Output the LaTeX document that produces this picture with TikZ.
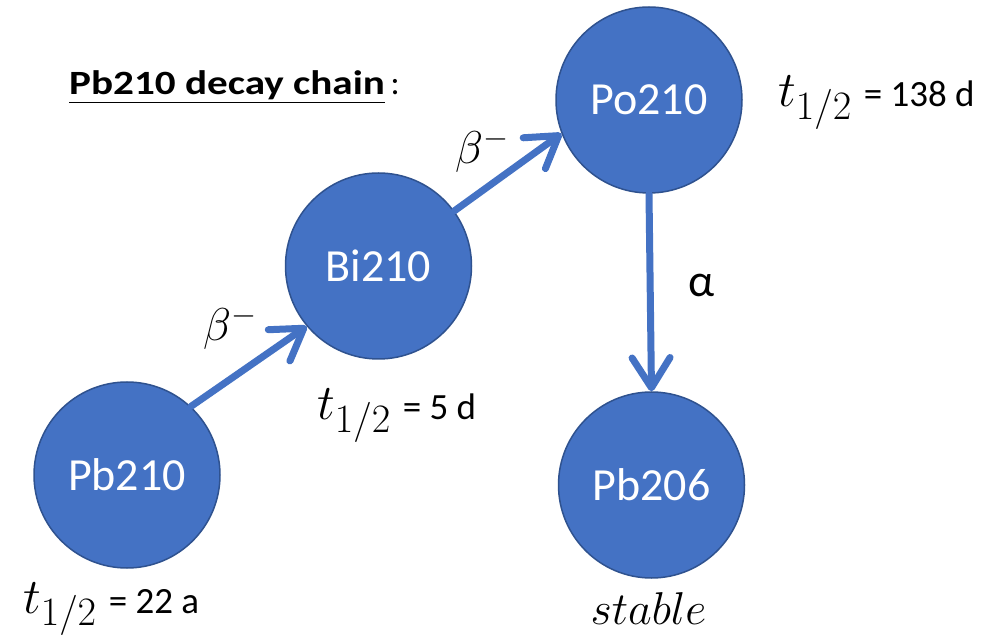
\RequirePackage{fix-cm}
\documentclass[tikz,border=0pt]{standalone}
\usepackage{fontspec}
\setmainfont{Carlito}
\usetikzlibrary{arrows.meta}
\definecolor{nucfill}{HTML}{4472C4}
\definecolor{nucedge}{HTML}{2F528F}
\newcommand{\thalf}{{\fontsize{50}{54}\selectfont$t_{\scalebox{1.15}{$\scriptstyle 1/2$}}$}\hspace{12pt}}
\begin{document}
\begin{tikzpicture}[x=1pt,y=-1pt,
  nuclide/.style={circle, fill=nucfill, draw=nucedge, line width=1.5pt,
    minimum size=186pt, inner sep=0pt, text=white,
    font=\fontsize{46}{50}\selectfont},
  decay/.style={draw=nucfill, line width=7pt, line cap=round,
    -{Straight Barb[length=30pt, width=38pt, round]}},
  plain/.style={inner sep=0pt, anchor=base west},
  halflife/.style={plain, font=\fontsize{37}{42}\selectfont},
  mathbig/.style={plain, font=\fontsize{46}{50}\selectfont}]
\useasboundingbox (0,0) rectangle (1005,636);
\fill[white] (0,0) rectangle (1005,636);

% nuclides
\node[nuclide] (pb210) at (127,475) {Pb210};
\node[nuclide] (bi210) at (378.5,266) {Bi210};
\node[nuclide] (po210) at (649,100) {Po210};
\node[nuclide] (pb206) at (651.5,485) {Pb206};

% decays
\draw[decay] (pb210.47) -- (bi210.220);
\draw[decay] (bi210.36) -- (po210.201);
\draw[decay] (po210.south) -- (pb206.north);

% decay modes
\node[mathbig] (beta1) at (203,341) {$\beta^-$};
\node[mathbig] (beta2) at (455,164) {$\beta^-$};
\node[plain, font=\fontsize{46}{50}\selectfont] (alpha) at (688,297) {α};

% half-lives
\node[halflife] (hl1) at (23,613) {\thalf= 22 a};
\node[halflife] (hl2) at (317,420) {\thalf= 5 d};
\node[halflife] (hl3) at (778,107) {\thalf= 138 d};
\node[mathbig, anchor=base] (stable) at (648.5,624) {$stable$};

% title
\node[plain, font=\fontsize{34}{40}\selectfont] (title) at (69,95)
  {\scalebox{1.21}[1]{\underline{\textbf{Pb210 decay chain}}}\,:};
\end{tikzpicture}
\end{document}
